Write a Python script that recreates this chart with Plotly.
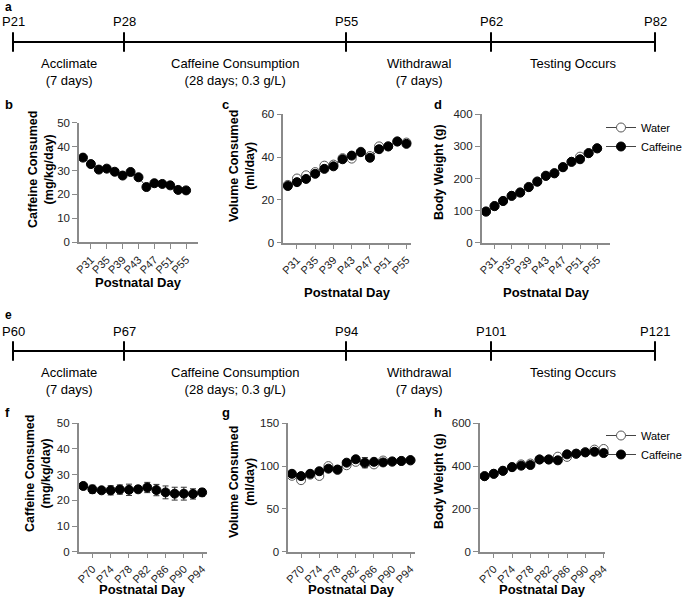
import plotly.graph_objects as go

# ---------------- data ----------------
days_adol = [29, 31, 33, 35, 37, 39, 41, 43, 45, 47, 49, 51, 53, 55]
adol_caffeine_mgkg = [35.4, 32.7, 30.4, 30.8, 29.5, 27.9, 29.4, 27.2, 23.1, 24.7, 24.4, 23.8, 21.9, 21.7]
adol_vol_water = [27.0, 30.0, 31.5, 33.0, 36.0, 36.5, 39.5, 39.3, 42.5, 40.5, 45.0, 45.0, 47.3, 46.8]
adol_vol_caff = [26.5, 28.3, 29.8, 32.2, 34.5, 35.7, 39.0, 40.7, 42.3, 39.7, 43.7, 45.0, 47.3, 46.2]
adol_bw_water = [97, 114, 130, 146, 157, 174, 191, 209, 217, 236, 252, 268, 279, 294]
adol_bw_caff = [97, 114, 130, 146, 156, 173, 190, 208, 216, 235, 252, 260, 279, 294]

days_adult = [68, 70, 72, 74, 76, 78, 80, 82, 84, 86, 88, 90, 92, 94]
adult_caffeine_mgkg = [25.6, 24.3, 23.9, 23.9, 24.2, 24.1, 24.3, 25.0, 24.0, 23.1, 22.6, 22.6, 22.5, 23.1]
adult_caffeine_err = [0.8, 1.6, 0.8, 1.8, 1.8, 2.2, 1.2, 2.0, 2.2, 2.5, 2.5, 2.5, 2.0, 1.5]
adult_vol_water = [88.7, 83.6, 90.0, 88.5, 100.0, 95.5, 101.0, 105.0, 103.0, 102.0, 106.5, 105.0, 106.0, 106.5]
adult_vol_caff = [91.0, 88.3, 91.0, 94.0, 97.0, 96.0, 104.0, 108.0, 104.0, 105.0, 104.3, 105.5, 106.0, 107.0]
adult_vol_caff_err = [1.5, 1.5, 1.5, 1.5, 1.5, 1.5, 2.0, 2.0, 6.0, 2.0, 1.5, 1.5, 1.5, 1.5]
adult_bw_water = [353, 364, 378, 396, 408, 412, 431, 431, 444, 443, 458, 465, 477, 480]
adult_bw_caff = [353, 364, 378, 395, 402, 405, 431, 431, 427, 455, 458, 464, 467, 461]

adol_ticks = [31, 35, 39, 43, 47, 51, 55]
adult_ticks = [70, 74, 78, 82, 86, 90, 94]

timeline_a_labels = ["P21", "P28", "P55", "P62", "P82"]
timeline_e_labels = ["P60", "P67", "P94", "P101", "P121"]
phase_labels = ["Acclimate<br>(7 days)", "Caffeine Consumption<br>(28 days; 0.3 g/L)",
                "Withdrawal<br>(7 days)", "Testing Occurs"]

# ---------------- layout helpers ----------------
W, H = 685, 600
FONT = "Liberation Sans, Arial, sans-serif"
AX = "#8a8a8a"

def px(x):
    return x / W

def py(y):
    return 1 - y / H

# schematic milestone positions on the timeline (px along the figure width)
TL_POS = [13, 124, 346, 491, 655]

fig = go.Figure()
annotations = []

# ---------------- panels ----------------
panels = [
    dict(id="", xd=(79, 198), yd=(122.7, 242.3), xr=[28, 58], yr=[0, 50], dt=10, tv=adol_ticks),
    dict(id="2", xd=(283.3, 411), yd=(114.3, 242.7), xr=[28, 56], yr=[0, 60], dt=20, tv=adol_ticks),
    dict(id="3", xd=(481.7, 610), yd=(114.3, 242.7), xr=[28, 58], yr=[0, 400], dt=100, tv=adol_ticks),
    dict(id="4", xd=(78.7, 206.7), yd=(423.3, 551.7), xr=[67, 95], yr=[0, 50], dt=10, tv=adult_ticks),
    dict(id="5", xd=(288.3, 415), yd=(423.3, 551.7), xr=[67.2, 95], yr=[0, 150], dt=50, tv=adult_ticks),
    dict(id="6", xd=(480, 605), yd=(423.3, 551.7), xr=[67, 94.3], yr=[0, 600], dt=200, tv=adult_ticks),
]

layout_axes = {}
for p in panels:
    i = p["id"]
    layout_axes["xaxis" + i] = dict(
        domain=[px(p["xd"][0]), px(p["xd"][1])], range=p["xr"], anchor="y" + i,
        tickvals=p["tv"], ticktext=["P%d" % v for v in p["tv"]], tickangle=-45,
        showline=True, linecolor=AX, linewidth=1.5, ticks="outside", ticklen=5,
        tickcolor=AX, tickwidth=1.2, showgrid=False, zeroline=False, automargin=False,
        tickfont=dict(family=FONT, size=11, color="#222"),
    )
    layout_axes["yaxis" + i] = dict(
        domain=[py(p["yd"][1]), py(p["yd"][0])], range=p["yr"], anchor="x" + i,
        dtick=p["dt"], tick0=0, automargin=False,
        showline=True, linecolor=AX, linewidth=1.5, ticks="outside", ticklen=5,
        tickcolor=AX, tickwidth=1.2, showgrid=False, zeroline=False,
        tickfont=dict(family=FONT, size=11.5, color="#222"),
    )

def xy(i):
    return ("x" + i, "y" + i)

line_style = dict(color="#444", width=1)
filled = dict(symbol="circle", size=9, color="black", line=dict(color="black", width=1))
opened = dict(symbol="circle", size=9, color="white", line=dict(color="#555", width=1))

def add(x, y, i, marker, name=None, legend=None, showlegend=False, err=None):
    xa, ya = xy(i)
    tr = go.Scatter(x=x, y=y, mode="lines+markers", xaxis=xa, yaxis=ya,
                    line=line_style, marker=marker, cliponaxis=False,
                    name=name, showlegend=showlegend)
    if legend:
        tr.legend = legend
    if err is not None:
        tr.error_y = dict(type="data", array=err, visible=True, color="#333",
                          thickness=1, width=3)
    fig.add_trace(tr)

# b
add(days_adol, adol_caffeine_mgkg, "", filled)
# c
add(days_adol, adol_vol_water, "2", opened)
add(days_adol, adol_vol_caff, "2", filled)
# d
add(days_adol, adol_bw_water, "3", opened, name="Water", legend="legend", showlegend=True)
add(days_adol, adol_bw_caff, "3", filled, name="Caffeine", legend="legend", showlegend=True)
# f
add(days_adult, adult_caffeine_mgkg, "4", filled, err=adult_caffeine_err)
# g
add(days_adult, adult_vol_water, "5", opened)
add(days_adult, adult_vol_caff, "5", filled, err=adult_vol_caff_err)
# h
add(days_adult, adult_bw_water, "6", opened, name="Water", legend="legend2", showlegend=True)
add(days_adult, adult_bw_caff, "6", filled, name="Caffeine", legend="legend2", showlegend=True)

# ---------------- timelines ----------------
def timeline(i, line_y, labels, letter, letter_y):
    xa, ya = "x" + i, "y" + i
    layout_axes["xaxis" + i] = dict(domain=[0, 1], range=[0, W], visible=False, anchor=ya)
    layout_axes["yaxis" + i] = dict(domain=[py(line_y + 10), py(line_y - 10)], range=[-1, 1],
                                    visible=False, anchor=xa)
    fig.add_trace(go.Scatter(x=[TL_POS[0], TL_POS[-1]], y=[0, 0], mode="lines",
                             xaxis=xa, yaxis=ya, line=dict(color="black", width=2),
                             showlegend=False, hoverinfo="skip"))
    fig.add_trace(go.Scatter(x=TL_POS, y=[0] * len(TL_POS), mode="markers",
                             xaxis=xa, yaxis=ya, cliponaxis=False,
                             marker=dict(symbol="line-ns", size=14,
                                         line=dict(color="black", width=2)),
                             showlegend=False, hoverinfo="skip"))
    for pos, lab in zip(TL_POS, labels):
        annotations.append(dict(x=pos, y=py(line_y - 20), xref=xa, yref="paper",
                                text=lab, showarrow=False, xanchor="center", yanchor="middle",
                                font=dict(family=FONT, size=13, color="black")))
    for k, lab in enumerate(phase_labels):
        mid = (TL_POS[k] + TL_POS[k + 1]) / 2
        annotations.append(dict(x=mid, y=py(line_y + 12), xref=xa, yref="paper",
                                text=lab, showarrow=False, xanchor="center", yanchor="top",
                                font=dict(family=FONT, size=13, color="black")))
    annotations.append(dict(x=px(3), y=py(letter_y), xref="paper", yref="paper",
                            text="<b>%s</b>" % letter, showarrow=False,
                            xanchor="left", yanchor="middle",
                            font=dict(family=FONT, size=12, color="black")))

timeline("7", 42, timeline_a_labels, "a", 7)
timeline("8", 351, timeline_e_labels, "e", 315)

# ---------------- titles & letters ----------------
def ytitle(x, y, text):
    annotations.append(dict(x=px(x), y=py(y), xref="paper", yref="paper", text=text,
                            textangle=-90, showarrow=False, xanchor="center", yanchor="middle",
                            font=dict(family=FONT, size=12.5, color="black")))

def xtitle(x, y, text="<b>Postnatal Day</b>"):
    annotations.append(dict(x=px(x), y=py(y), xref="paper", yref="paper", text=text,
                            showarrow=False, xanchor="center", yanchor="middle",
                            font=dict(family=FONT, size=13, color="black")))

def letter(x, y, t):
    annotations.append(dict(x=px(x), y=py(y), xref="paper", yref="paper",
                            text="<b>%s</b>" % t, showarrow=False,
                            xanchor="left", yanchor="middle",
                            font=dict(family=FONT, size=13, color="black")))

ytitle(41, 170, "<b>Caffeine Consumed<br>(mg/kg/day)</b>")
ytitle(242, 166, "<b>Volume Consumed<br>(ml/day)</b>")
ytitle(439, 172, "<b>Body Weight (g)</b>")
ytitle(38, 474, "<b>Caffeine Consumed<br>(mg/kg/day)</b>")
ytitle(242, 482, "<b>Volume Consumed<br>(ml/day)</b>")
ytitle(439, 481, "<b>Body Weight (g)</b>")

xtitle(138.5, 282)
xtitle(347, 292)
xtitle(546, 292)
xtitle(142.7, 589)
xtitle(351.6, 589)
xtitle(542.5, 589)

letter(3, 104, "b")
letter(220, 104, "c")
letter(432, 104, "d")
letter(3, 412, "f")
letter(220, 412, "g")
letter(432, 412, "h")

legend_style = dict(font=dict(family=FONT, size=11, color="black"), bgcolor="rgba(0,0,0,0)",
                    xanchor="left", yanchor="top", tracegroupgap=0, itemwidth=30)

fig.update_layout(
    width=W, height=H, margin=dict(l=0, r=0, t=0, b=0, pad=0, autoexpand=False),
    paper_bgcolor="white", plot_bgcolor="white",
    font=dict(family=FONT, color="black"),
    annotations=annotations,
    legend=dict(x=px(601), y=py(113), **legend_style),
    legend2=dict(x=px(601), y=py(421), **legend_style),
    **layout_axes,
)

fig.write_html("out.html", config={"displayModeBar": False},
               post_script="document.body.style.margin='0px';")
